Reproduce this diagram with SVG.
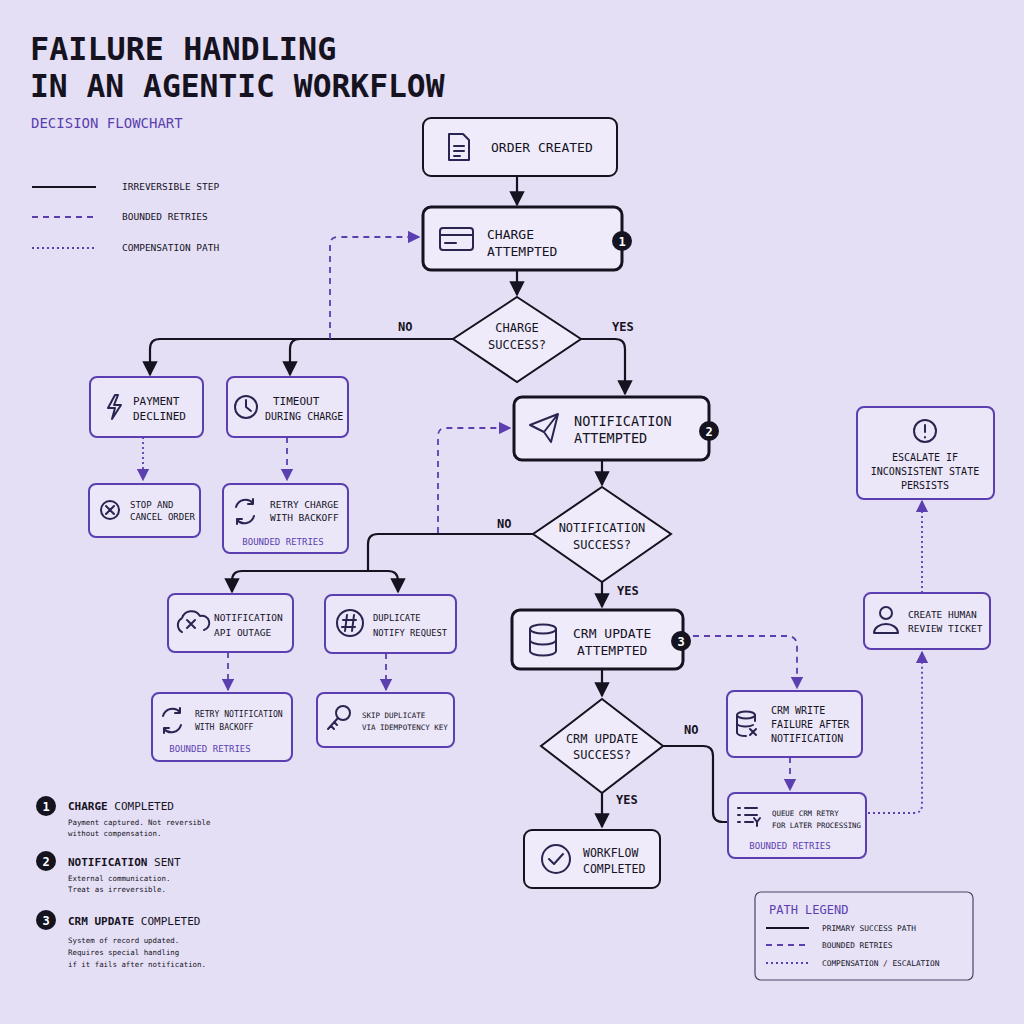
<svg xmlns="http://www.w3.org/2000/svg" width="1024" height="1024" viewBox="0 0 1024 1024">
<defs>
<marker id="ak" viewBox="0 0 10 10" refX="9" refY="5" markerWidth="7" markerHeight="7" orient="auto"><path d="M0,0 L10,5 L0,10 z" fill="#15131f"/></marker>
<marker id="ap" viewBox="0 0 10 10" refX="9" refY="5" markerWidth="7" markerHeight="7" orient="auto"><path d="M0,0 L10,5 L0,10 z" fill="#5b3fb0"/></marker>
<style>
text{font-family:"DejaVu Sans Mono","Liberation Mono",monospace;fill:#15131f}
.k{fill:#efebfa;stroke:#15131f;stroke-width:2}
.kt{fill:#efebfa;stroke:#15131f;stroke-width:3}
.p{fill:#ebe6f8;stroke:#5b3fb0;stroke-width:2}
.s{fill:none;stroke:#15131f;stroke-width:2.2}
.d{fill:none;stroke:#5b3fb0;stroke-width:1.8;stroke-dasharray:6 5}
.o{fill:none;stroke:#5b3fb0;stroke-width:1.8;stroke-dasharray:2 3}
.ic{fill:none;stroke:#2a2550;stroke-width:2;stroke-linecap:round;stroke-linejoin:round}
.pu{fill:#5b3fb0}
.b{fill:#15131f}
.bn{fill:#fff;font-weight:bold;font-size:12px}
</style>
</defs>
<rect width="1024" height="1024" fill="#e5dff5"/>
<g id="title">
<text x="30" y="60" font-size="31.8" font-weight="bold">FAILURE HANDLING</text>
<text x="30" y="97" font-size="31.3" font-weight="bold">IN AN AGENTIC WORKFLOW</text>
<text x="31" y="128" font-size="14" class="pu">DECISION FLOWCHART</text>
</g>
<g id="legend-top">
<line x1="32" y1="187" x2="96" y2="187" stroke="#15131f" stroke-width="2"/>
<line x1="32" y1="217" x2="96" y2="217" class="d"/>
<line x1="32" y1="248" x2="96" y2="248" class="o"/>
<text x="122" y="190" font-size="9.5">IRREVERSIBLE STEP</text>
<text x="122" y="220" font-size="9.5">BOUNDED RETRIES</text>
<text x="122" y="251" font-size="9.5">COMPENSATION PATH</text>
</g>
<g id="connectors">
<line x1="517" y1="176" x2="517" y2="205" class="s" marker-end="url(#ak)"/>
<line x1="517" y1="270" x2="517" y2="295" class="s" marker-end="url(#ak)"/>
<path d="M453,339 H160 Q150,339 150,349 V375" class="s" marker-end="url(#ak)"/>
<path d="M300,339 Q290,339 290,349 V375" class="s" marker-end="url(#ak)"/>
<path d="M330,339 V245 Q330,237 338,237 H419" class="d" marker-end="url(#ap)"/>
<path d="M581,339 H615 Q625,339 625,349 V394" class="s" marker-end="url(#ak)"/>
<line x1="143" y1="437" x2="143" y2="480" class="o" marker-end="url(#ap)"/>
<line x1="287" y1="437" x2="287" y2="480" class="d" marker-end="url(#ap)"/>
<path d="M438,533 V436 Q438,428 446,428 H510" class="d" marker-end="url(#ap)"/>
<line x1="602" y1="460" x2="602" y2="485" class="s" marker-end="url(#ak)"/>
<path d="M533,534 H378 Q368,534 368,544 V571" class="s"/>
<path d="M242,571 H388 Q398,571 398,581 V592" class="s" marker-end="url(#ak)"/>
<path d="M242,571 Q232,571 232,581 V592" class="s" marker-end="url(#ak)"/>
<line x1="602" y1="582" x2="602" y2="607" class="s" marker-end="url(#ak)"/>
<line x1="228" y1="652" x2="228" y2="690" class="d" marker-end="url(#ap)"/>
<line x1="386" y1="653" x2="386" y2="690" class="d" marker-end="url(#ap)"/>
<path d="M693,636 H787 Q797,636 797,646 V688" class="d" marker-end="url(#ap)"/>
<line x1="602" y1="669" x2="602" y2="696" class="s" marker-end="url(#ak)"/>
<path d="M663,746 H703 Q713,746 713,756 V812 Q713,822 723,822 H727" class="s"/>
<line x1="602" y1="793" x2="602" y2="827" class="s" marker-end="url(#ak)"/>
<line x1="790" y1="757" x2="790" y2="790" class="d" marker-end="url(#ap)"/>
<path d="M868,813 H914 Q922,813 922,805 V652" class="o" marker-end="url(#ap)"/>
<line x1="922" y1="593" x2="922" y2="501" class="o" marker-end="url(#ap)"/>
<g font-size="12" font-weight="bold">
<text x="398" y="331">NO</text><text x="612" y="331">YES</text>
<text x="497" y="528">NO</text><text x="617" y="595">YES</text>
<text x="684" y="734">NO</text><text x="616" y="804">YES</text>
</g>
</g>
<g id="order-created">
<rect x="423" y="118" width="194" height="58" rx="8" class="k"/>
<path d="M449,134 h14 l6,6 v20 h-20 z M454,146 h10 M454,151 h10 M454,156 h6" class="ic"/>
<text x="491" y="152" font-size="13">ORDER CREATED</text>
</g>
<g id="charge-attempted">
<rect x="423" y="207" width="199" height="63" rx="8" class="kt"/>
<rect x="440" y="228" width="33" height="22" rx="3" class="ic"/><line x1="440" y1="235" x2="473" y2="235" class="ic"/><line x1="445" y1="243" x2="456" y2="243" class="ic"/>
<text x="487" y="239" font-size="13">CHARGE</text><text x="487" y="256" font-size="13">ATTEMPTED</text>
<circle cx="622" cy="241" r="10" class="b"/><text x="622" y="245.5" text-anchor="middle" class="bn">1</text>
</g>
<g id="charge-success">
<polygon points="517,297 581,339 517,382 453,339" class="k"/>
<text x="517" y="332" font-size="12" text-anchor="middle">CHARGE</text><text x="517" y="349" font-size="12" text-anchor="middle">SUCCESS?</text>
</g>
<g id="payment-declined">
<rect x="90" y="377" width="113" height="60" rx="7" class="p"/>
<path d="M115,395 l-7,13 h7 l-3,11 l9,-14 h-7 l4,-10 z" class="ic"/>
<text x="133" y="405" font-size="11">PAYMENT</text><text x="133" y="420" font-size="11">DECLINED</text>
</g>
<g id="timeout">
<rect x="227" y="377" width="121" height="60" rx="7" class="p"/>
<circle cx="246" cy="407" r="11" class="ic"/><path d="M246,400 v7 l5,4" class="ic"/>
<text x="273" y="405" font-size="11">TIMEOUT</text><text x="265" y="420" font-size="10">DURING CHARGE</text>
</g>
<g id="stop-cancel">
<rect x="89" y="484" width="111" height="53" rx="7" class="p"/>
<circle cx="110" cy="510" r="9" class="ic"/><path d="M106,506 l8,8 M114,506 l-8,8" class="ic"/>
<text x="130" y="508" font-size="9">STOP AND</text><text x="130" y="520" font-size="9">CANCEL ORDER</text>
</g>
<g id="retry-charge">
<rect x="223" y="484" width="125" height="69" rx="7" class="p"/>
<path d="M236,507 a10,10 0 0 1 17,-4 M253,499 v5 h-5 M254,516 a10,10 0 0 1 -17,4 M237,524 v-5 h5" class="ic"/>
<text x="270" y="508" font-size="9.5">RETRY CHARGE</text><text x="270" y="521" font-size="9.5">WITH BACKOFF</text>
<text x="283" y="545" font-size="9" text-anchor="middle" class="pu">BOUNDED RETRIES</text>
</g>
<g id="notification-attempted">
<rect x="514" y="397" width="195" height="63" rx="8" class="kt"/>
<path d="M530,425 l28,-11 l-7,28 l-7,-10 z M544,432 l14,-18" class="ic"/>
<text x="574" y="426" font-size="13.5">NOTIFICATION</text><text x="574" y="443" font-size="13.5">ATTEMPTED</text>
<circle cx="709" cy="431" r="10" class="b"/><text x="709" y="435.5" text-anchor="middle" class="bn">2</text>
</g>
<g id="notification-success">
<polygon points="602,487 671,534 602,582 533,534" class="k"/>
<text x="602" y="532" font-size="12" text-anchor="middle">NOTIFICATION</text><text x="602" y="549" font-size="12" text-anchor="middle">SUCCESS?</text>
</g>
<g id="api-outage">
<rect x="168" y="594" width="125" height="58" rx="7" class="p"/>
<path d="M182,632 a8,8 0 0 1 0,-14 a10,10 0 0 1 18,-2 a7,7 0 0 1 4,14" class="ic"/><path d="M187,620 l8,8 M195,620 l-8,8" class="ic"/>
<text x="214" y="621" font-size="9.5">NOTIFICATION</text><text x="214" y="636" font-size="9.5">API OUTAGE</text>
</g>
<g id="duplicate-notify">
<rect x="325" y="595" width="131" height="58" rx="7" class="p"/>
<circle cx="350" cy="623" r="13" class="ic"/><path d="M347,615 l-2,16 M354,615 l-2,16 M343,620 h13 M342,627 h13" class="ic" stroke-width="1.6"/>
<text x="373" y="621" font-size="8.8">DUPLICATE</text><text x="373" y="636" font-size="8.8">NOTIFY REQUEST</text>
</g>
<g id="retry-notification">
<rect x="152" y="693" width="140" height="68" rx="7" class="p"/>
<path d="M163,716 a10,10 0 0 1 17,-4 M180,708 v5 h-5 M181,725 a10,10 0 0 1 -17,4 M164,733 v-5 h5" class="ic"/>
<text x="195" y="717" font-size="8.1">RETRY NOTIFICATION</text><text x="195" y="730" font-size="8.1">WITH BACKOFF</text>
<text x="210" y="752" font-size="9" text-anchor="middle" class="pu">BOUNDED RETRIES</text>
</g>
<g id="skip-duplicate">
<rect x="317" y="693" width="137" height="54" rx="7" class="p"/>
<circle cx="343" cy="713" r="7" class="ic"/><path d="M338,718 l-10,11 M331,726 l3,3 M334,722 l3,3" class="ic"/>
<text x="362" y="718" font-size="7.5">SKIP DUPLICATE</text><text x="362" y="730" font-size="7.5">VIA IDEMPOTENCY KEY</text>
</g>
<g id="crm-attempted">
<rect x="512" y="610" width="171" height="59" rx="8" class="kt"/>
<ellipse cx="543" cy="629" rx="13" ry="4.5" class="ic"/><path d="M530,629 v22 a13,4.5 0 0 0 26,0 v-22 M530,640 a13,4.5 0 0 0 26,0" class="ic"/>
<text x="573" y="638" font-size="13">CRM UPDATE</text><text x="577" y="655" font-size="13">ATTEMPTED</text>
<circle cx="681" cy="641" r="10" class="b"/><text x="681" y="645.5" text-anchor="middle" class="bn">3</text>
</g>
<g id="crm-success">
<polygon points="602,699 663,746 602,793 541,746" class="k"/>
<text x="602" y="743" font-size="12" text-anchor="middle">CRM UPDATE</text><text x="602" y="759" font-size="12" text-anchor="middle">SUCCESS?</text>
</g>
<g id="workflow-completed">
<rect x="524" y="830" width="136" height="58" rx="8" class="k"/>
<circle cx="556" cy="859" r="14" class="ic"/><path d="M549,859 l5,5 l9,-10" class="ic"/>
<text x="583" y="857" font-size="11.5">WORKFLOW</text><text x="583" y="873" font-size="11.5">COMPLETED</text>
</g>
<g id="crm-write-failure">
<rect x="727" y="691" width="135" height="66" rx="7" class="p"/>
<ellipse cx="746" cy="715" rx="9" ry="3.5" class="ic"/><path d="M737,715 v18 a9,3.5 0 0 0 9,3 M737,724 a9,3.5 0 0 0 16,1 M755,715 v6 M750,729 l6,6 M756,729 l-6,6" class="ic"/>
<text x="771" y="714" font-size="10">CRM WRITE</text><text x="771" y="728" font-size="10">FAILURE AFTER</text><text x="771" y="742" font-size="10">NOTIFICATION</text>
</g>
<g id="queue-retry">
<rect x="728" y="793" width="138" height="65" rx="7" class="p"/>
<path d="M738,808 h2 M745,808 h12 M738,815 h2 M745,815 h12 M738,822 h2 M745,822 h8 M754,818 l3,4 l3,-4 M757,822 v4" class="ic"/>
<text x="772" y="816" font-size="7.4">QUEUE CRM RETRY</text><text x="772" y="828" font-size="7.4">FOR LATER PROCESSING</text>
<text x="790" y="849" font-size="9" text-anchor="middle" class="pu">BOUNDED RETRIES</text>
</g>
<g id="human-review">
<rect x="864" y="593" width="126" height="56" rx="7" class="p"/>
<circle cx="886" cy="613" r="6" class="ic"/><path d="M874,633 a12,9 0 0 1 24,0 z" class="ic"/>
<text x="908" y="618" font-size="9.5">CREATE HUMAN</text><text x="908" y="632" font-size="9.5">REVIEW TICKET</text>
</g>
<g id="escalate">
<rect x="857" y="407" width="137" height="92" rx="7" class="p"/>
<circle cx="925" cy="431" r="11" class="ic"/><path d="M925,425 v7 M925,437 v0.5" class="ic"/>
<text x="925" y="461" font-size="10" text-anchor="middle">ESCALATE IF</text><text x="925" y="475" font-size="10" text-anchor="middle">INCONSISTENT STATE</text><text x="925" y="489" font-size="10" text-anchor="middle">PERSISTS</text>
</g>
<g id="notes">
<circle cx="46" cy="806" r="10" class="b"/><text x="46" y="810.5" text-anchor="middle" class="bn">1</text>
<text x="68" y="810" font-size="11"><tspan font-weight="bold">CHARGE</tspan> COMPLETED</text>
<text x="68" y="825" font-size="7.4">Payment captured. Not reversible</text><text x="68" y="836" font-size="7.4">without compensation.</text>
<circle cx="46" cy="861" r="10" class="b"/><text x="46" y="865.5" text-anchor="middle" class="bn">2</text>
<text x="68" y="866" font-size="11"><tspan font-weight="bold">NOTIFICATION</tspan> SENT</text>
<text x="68" y="881" font-size="7.4">External communication.</text><text x="68" y="892" font-size="7.4">Treat as irreversible.</text>
<circle cx="46" cy="920" r="10" class="b"/><text x="46" y="924.5" text-anchor="middle" class="bn">3</text>
<text x="68" y="925" font-size="11"><tspan font-weight="bold">CRM UPDATE</tspan> COMPLETED</text>
<text x="68" y="943" font-size="7.4">System of record updated.</text><text x="68" y="955" font-size="7.4">Requires special handling</text><text x="68" y="967" font-size="7.4">if it fails after notification.</text>
</g>
<g id="path-legend">
<rect x="755" y="892" width="218" height="88" rx="6" fill="#e8e2f7" stroke="#4a4466" stroke-width="1.2"/>
<text x="769" y="914" font-size="12" class="pu">PATH LEGEND</text>
<line x1="766" y1="928" x2="809" y2="928" stroke="#15131f" stroke-width="2"/>
<line x1="766" y1="945" x2="809" y2="945" class="d"/>
<line x1="766" y1="963" x2="809" y2="963" class="o"/>
<text x="822" y="931" font-size="7.8">PRIMARY SUCCESS PATH</text>
<text x="822" y="948" font-size="7.8">BOUNDED RETRIES</text>
<text x="822" y="966" font-size="7.8">COMPENSATION / ESCALATION</text>
</g>
</svg>
